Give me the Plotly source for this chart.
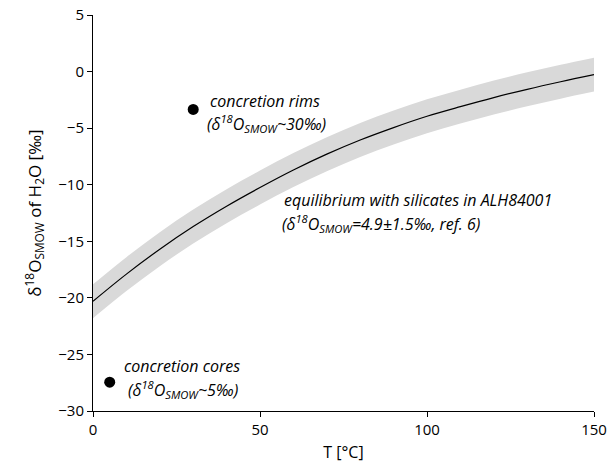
import plotly.graph_objects as go

# Temperature grid (°C) and values
T = [0, 10, 20, 30, 40, 50, 60, 70, 80, 90, 100, 110, 120, 130, 140, 150]
curve = [-20.3, -17.9, -15.7, -13.7, -11.9, -10.25, -8.7, -7.3, -6.05, -4.95, -3.95, -3.1, -2.3, -1.57, -0.9, -0.27]
band_hi = [-18.8, -16.4, -14.2, -12.2, -10.4, -8.75, -7.2, -5.8, -4.55, -3.45, -2.45, -1.6, -0.8, -0.07, 0.6, 1.23]
band_lo = [-21.8, -19.4, -17.2, -15.2, -13.4, -11.75, -10.2, -8.8, -7.55, -6.45, -5.45, -4.6, -3.8, -3.07, -2.4, -1.77]

pts_T = [30, 5]
pts_d = [-3.35, -27.45]

x_ticks = [0, 50, 100, 150]
y_ticks = [5, 0, -5, -10, -15, -20, -25, -30]

FONT = "Open Sans"

fig = go.Figure()
fig.add_trace(go.Scatter(x=T, y=band_lo, mode="lines", line=dict(width=0, color="#d9d9d9", shape="spline"),
                         showlegend=False, hoverinfo="skip"))
fig.add_trace(go.Scatter(x=T, y=band_hi, mode="lines", line=dict(width=0, color="#d9d9d9", shape="spline"),
                         fill="tonexty", fillcolor="#d9d9d9", showlegend=False, hoverinfo="skip"))
fig.add_trace(go.Scatter(x=T, y=curve, mode="lines", line=dict(width=1.2, color="black", shape="spline"),
                         showlegend=False))
fig.add_trace(go.Scatter(x=pts_T, y=pts_d, mode="markers",
                         marker=dict(size=11, color="black"), showlegend=False))

ann_font = dict(family=FONT, size=16, color="black")
anns = [
    (34.5, -2.6, "<i>concretion rims</i>"),
    (33.6, -4.6, "<i>(δ<sup>18</sup>O<sub>SMOW</sub>~30‰)</i>"),
    (8.8, -26.0, "<i>concretion cores</i>"),
    (10.0, -28.1, "<i>(δ<sup>18</sup>O<sub>SMOW</sub>~5‰)</i>"),
    (56.6, -11.35, "<i>equilibrium with silicates in ALH84001</i>"),
    (56.1, -13.4, "<i>(δ<sup>18</sup>O<sub>SMOW</sub>=4.9±1.5‰, ref. 6)</i>"),
]
for x, y, t in anns:
    fig.add_annotation(x=x, y=y, text=t, showarrow=False, xanchor="left", yanchor="middle",
                       font=ann_font)

fig.update_layout(
    width=608, height=468,
    margin=dict(l=92.5, r=14, t=15, b=57),
    paper_bgcolor="white", plot_bgcolor="white",
    font=dict(family=FONT, size=15, color="black"),
    xaxis=dict(range=[0, 150], tickvals=x_ticks, showgrid=False, zeroline=False, automargin=False,
               showline=True, linecolor="black", linewidth=1, ticks="outside", ticklen=5,
               tickcolor="black", tickfont=dict(size=15),
               title=dict(text="T [°C]", font=dict(size=16), standoff=8)),
    yaxis=dict(range=[-30, 5], tickvals=y_ticks, showgrid=False, zeroline=False, automargin=False,
               showline=True, linecolor="black", linewidth=1, ticks="outside", ticklen=5,
               tickcolor="black", tickfont=dict(size=15),
               title=dict(text="δ<sup>18</sup>O<sub>SMOW</sub> of H<sub>2</sub>O [‰]",
                          font=dict(size=17), standoff=12)),
)

fig.write_html("out.html")
